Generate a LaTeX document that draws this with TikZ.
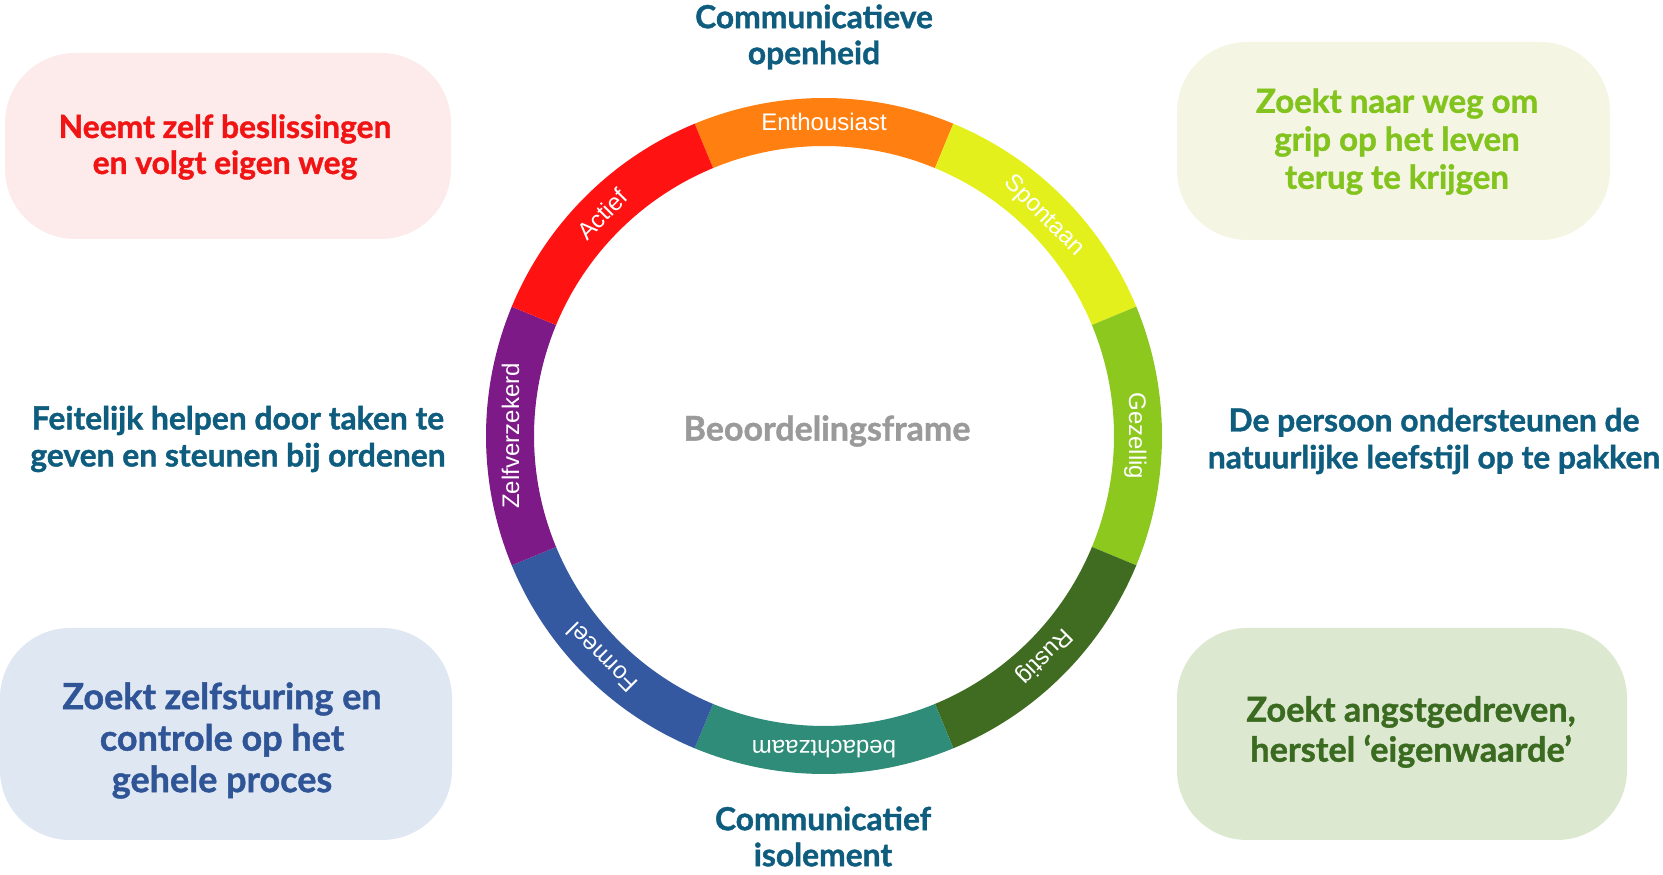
\documentclass[tikz,border=0pt]{standalone}
\usepackage{fontspec}
\setmainfont{Lato}[BoldFeatures={FakeBold=1.2}]
\newfontfamily\ringfont{Liberation Sans}
\definecolor{cOr}{HTML}{FF7F10}
\definecolor{cYe}{HTML}{E3F01C}
\definecolor{cGl}{HTML}{8CC81E}
\definecolor{cDg}{HTML}{3F6C20}
\definecolor{cTe}{HTML}{2F8C78}
\definecolor{cBl}{HTML}{3459A1}
\definecolor{cPu}{HTML}{7D1A88}
\definecolor{cRe}{HTML}{FF1212}
\definecolor{tTeal}{HTML}{0E5C7E}
\definecolor{tRed}{HTML}{F01414}
\definecolor{tLime}{HTML}{82C31E}
\definecolor{tBlue}{HTML}{2F5597}
\definecolor{tDg}{HTML}{3A6B20}
\definecolor{tGray}{HTML}{9A9A9A}
\definecolor{fPink}{HTML}{FDEBEB}
\definecolor{fCream}{HTML}{F5F5E3}
\definecolor{fBlue}{HTML}{DFE7F2}
\definecolor{fGreen}{HTML}{DCE8CF}
\newcommand\ringseg[4]{%
  \fill[#2] (#1+22.5:338pt) arc[start angle=#1+22.5, end angle=#1-22.5, radius=338pt]
    -- (#1-22.5:290pt) arc[start angle=#1-22.5, end angle=#1+22.5, radius=290pt] -- cycle;
  \node[ringlbl, rotate=#1-90] (#4) at (#1:305pt) {#3};
}
\begin{document}
\begin{tikzpicture}[x=1pt,y=1pt,
  pill/.style={rounded corners=70pt, inner sep=0pt, draw=none},
  ringlbl/.style={anchor=base, inner sep=0pt, text=white, font=\ringfont\fontsize{24}{28}\selectfont},
  lbl/.style={font=\bfseries\fontsize{31.8}{36}\selectfont, align=center, inner sep=0pt}]
\useasboundingbox (0,0) rectangle (1663,875);
% boxes
\node[pill, fill=fPink, minimum width=446pt, minimum height=186pt] (bTL) at (228,729) {};
\node[pill, fill=fCream, minimum width=433pt, minimum height=198pt] (bTR) at (1393.5,734) {};
\node[pill, fill=fBlue, minimum width=452pt, minimum height=212pt] (bBL) at (226,141) {};
\node[pill, fill=fGreen, minimum width=450pt, minimum height=212pt] (bBR) at (1402,141) {};
% ring
\begin{scope}[shift={(824,439)}]
\ringseg{90}{cOr}{Enthousiast}{sEnt}
\ringseg{45}{cYe}{Spontaan}{sSpo}
\ringseg{0}{cGl}{Gezellig}{sGez}
\ringseg{-45}{cDg}{Rustig}{sRus}
\ringseg{-90}{cTe}{bedachtzaam}{sBed}
\ringseg{-135}{cBl}{Formeel}{sFor}
\ringseg{-180}{cPu}{Zelfverzekerd}{sZel}
\ringseg{-225}{cRe}{Actief}{sAct}
\end{scope}
% texts
\node[lbl, text=tGray, font=\bfseries\fontsize{34}{38}\selectfont] (ctr) at (827,444) {Beoordelingsframe};
\node[lbl, text=tTeal] (top) at (814,838) {Communicatieve\\openheid};
\node[lbl, text=tTeal] (bot) at (823,38.5) {Communicatief\\isolement};
\node[lbl, text=tTeal, font=\bfseries\fontsize{31.8}{37}\selectfont] (lm) at (238,436) {Feitelijk helpen door taken te\\geven en steunen bij ordenen};
\node[lbl, text=tTeal, font=\bfseries\fontsize{31.8}{37}\selectfont] (rm) at (1434,434) {De persoon ondersteunen de\\natuurlijke leefstijl op te pakken};
\node[lbl, text=tRed] (t1) at (225,728) {Neemt zelf beslissingen\\en volgt eigen weg};
\node[lbl, text=tLime, font=\bfseries\fontsize{33}{38}\selectfont] (t2) at (1397,733.5) {Zoekt naar weg om\\grip op het leven\\terug te krijgen};
\node[lbl, text=tBlue, font=\bfseries\fontsize{36}{41.5}\selectfont] (t3) at (222,134.5) {Zoekt zelfsturing en\\controle op het\\gehele proces};
\node[lbl, text=tDg, font=\bfseries\fontsize{34.3}{40}\selectfont] (t4) at (1411,143) {Zoekt angstgedreven,\\herstel ‘eigenwaarde’};
\end{tikzpicture}
\end{document}
